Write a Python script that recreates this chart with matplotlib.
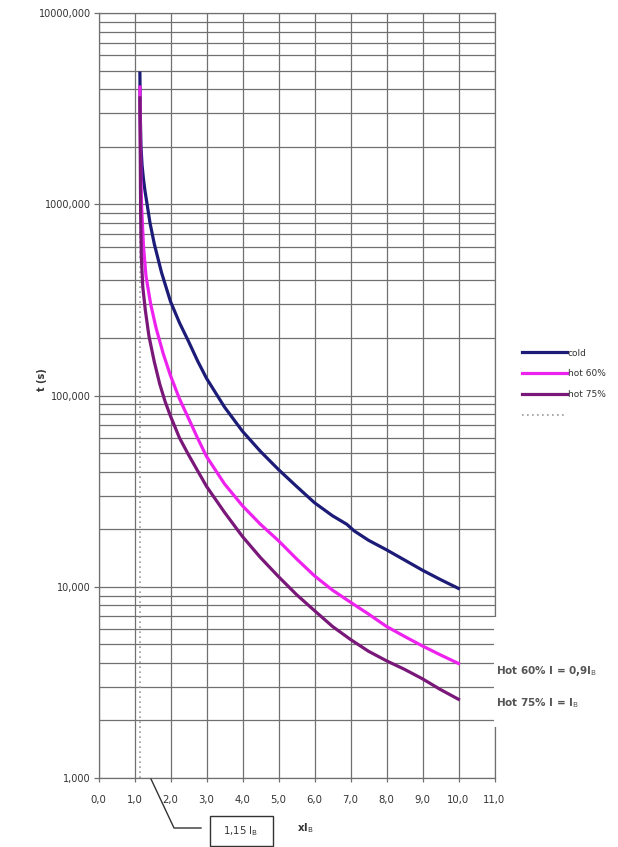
import matplotlib
matplotlib.use("Agg")
import matplotlib.pyplot as plt
from matplotlib.lines import Line2D
from matplotlib.patches import Rectangle

# ---- data ----
cold_x = [1.15, 1.16, 1.18, 1.21, 1.25, 1.29, 1.35, 1.43, 1.55, 1.75, 2.0, 2.25, 2.5, 2.75, 3.0, 3.5,
          4.0, 4.5, 5.0, 5.5, 6.0, 6.5, 6.9, 7.1, 7.5, 8.0, 8.5, 9.0, 9.5, 10.0]
cold_t = [4850, 3000, 2000, 1600, 1350, 1180, 1000, 800, 620, 440, 310, 240, 192, 152, 123, 87,
          65, 51, 41, 33.5, 27.5, 23.5, 21.2, 19.6, 17.5, 15.6, 13.8, 12.2, 10.9, 9.8]

hot60_x = [1.15, 1.16, 1.18, 1.2, 1.25, 1.32, 1.45, 1.6, 1.8, 2.0, 2.25, 2.5, 2.75, 3.0, 3.5, 4.0,
           4.5, 5.0, 5.5, 6.0, 6.5, 7.0, 7.5, 8.0, 8.5, 9.0, 9.5, 10.0]
hot60_t = [4100, 2500, 1300, 950, 600, 420, 300, 225, 165, 127, 96, 76, 60, 48, 34.5, 26.5,
           21.2, 17.4, 14.0, 11.4, 9.6, 8.3, 7.2, 6.2, 5.5, 4.9, 4.4, 3.97]

hot75_x = [1.15, 1.16, 1.17, 1.19, 1.23, 1.3, 1.4, 1.55, 1.7, 1.85, 2.0, 2.25, 2.5, 2.75, 3.0, 3.5,
           4.0, 4.5, 5.0, 5.5, 6.0, 6.5, 7.0, 7.5, 8.0, 8.5, 9.0, 9.5, 10.0]
hot75_t = [3600, 1800, 900, 530, 370, 280, 205, 150, 115, 93, 78, 60, 49, 40.5, 33.5, 24.5,
           18.3, 14.2, 11.3, 9.1, 7.5, 6.2, 5.3, 4.6, 4.1, 3.7, 3.3, 2.9, 2.58]

marker_x = [1.15, 1.15]
marker_t = [1, 3000]

x_ticks = list(range(0, 12))
x_ticklabels = ["0,0", "1,0", "2,0", "3,0", "4,0", "5,0", "6,0", "7,0", "8,0", "9,0", "10,0", "11,0"]
y_ticks = [1, 10, 100, 1000, 10000]
y_ticklabels = ["1,000", "10,000", "100,000", "1000,000", "10000,000"]

series_labels = ["cold", "hot 60%", "hot 75%", ""]
colors = ["#1c1c78", "#ee22ee", "#7a187a", "#9a9a9a"]

W, H = 618, 847
fig = plt.figure(figsize=(W / 100, H / 100), dpi=100)
ax = fig.add_axes([98.5 / W, 1 - 778 / H, (494.5 - 98.5) / W, (778 - 13) / H])

ax.set_yscale("log")
ax.set_xlim(0, 11)
ax.set_ylim(1, 10000)

grid_c = "#707070"
ax.set_xticks(x_ticks)
ax.set_xticklabels(x_ticklabels, fontsize=7.3, color="#333333")
ax.set_yticks(y_ticks)
ax.set_yticklabels(y_ticklabels, fontsize=7.0, color="#333333")
ax.tick_params(axis="x", which="major", length=3, pad=9, color=grid_c, width=0.9)
ax.tick_params(axis="y", which="major", length=3.5, pad=2, color=grid_c, width=0.9)
ax.tick_params(axis="y", which="minor", length=0)
ax.grid(True, which="major", axis="both", color=grid_c, lw=0.9)
ax.grid(True, which="minor", axis="y", color=grid_c, lw=0.9)
ax.set_axisbelow(True)
for s in ax.spines.values():
    s.set_color(grid_c)
    s.set_linewidth(0.9)

l4, = ax.plot(marker_x, marker_t, color=colors[3], lw=1.2, ls=(0, (1, 2)), zorder=2)
l1, = ax.plot(cold_x, cold_t, color=colors[0], lw=2.3, zorder=3, solid_joinstyle="round")
l2, = ax.plot(hot60_x, hot60_t, color=colors[1], lw=2.3, zorder=3, solid_joinstyle="round")
l3, = ax.plot(hot75_x, hot75_t, color=colors[2], lw=2.3, zorder=3, solid_joinstyle="round")

leg = fig.legend([l1, l2, l3, l4], series_labels, loc="upper left",
                 bbox_to_anchor=(518 / W, 1 - 345 / H), frameon=False,
                 fontsize=6.5, handlelength=5.0, handletextpad=0.1,
                 labelspacing=1.3, borderaxespad=0)
for t in leg.get_texts():
    t.set_color("#333333")

ax.set_ylabel("t (s)", fontsize=7, fontweight="bold", color="#333333")
ax.yaxis.set_label_coords((47 - 98.5) / (494.5 - 98.5), (778 - 380) / (778 - 13))

# white cover on right side where annotations sit
fig.patches.append(Rectangle((493.5 / W, 1 - 727 / H), 120 / W, 110 / H,
                             transform=fig.transFigure, facecolor="white",
                             edgecolor="none", zorder=5))
fig.text(496 / W, 1 - 671 / H, r"Hot 60% I = 0,9I$_{\mathrm{B}}$", fontsize=7.5,
         fontweight="bold", color="#555555", va="center", ha="left", zorder=6)
fig.text(496 / W, 1 - 703 / H, r"Hot 75% I = I$_{\mathrm{B}}$", fontsize=7.5,
         fontweight="bold", color="#555555", va="center", ha="left", zorder=6)

# bottom annotation for 1,15 I_B
fig.add_artist(Line2D([151 / W, 174 / W, 201 / W],
                      [1 - 779 / H, 1 - 828 / H, 1 - 828 / H],
                      transform=fig.transFigure, color="#333333", lw=1.0))
fig.add_artist(Rectangle((209.5 / W, 1 - 846 / H), 63 / W, 30 / H,
                         transform=fig.transFigure, facecolor="white",
                         edgecolor="#333333", lw=1.0))
fig.text(241 / W, 1 - 831 / H, r"1,15 I$_{\mathrm{B}}$", fontsize=7.3,
         color="#333333", ha="center", va="center")
fig.text(305 / W, 1 - 828 / H, r"xI$_{\mathrm{B}}$", fontsize=7.3,
         fontweight="bold", color="#333333", ha="center", va="center")

fig.savefig("out.png", dpi=100, facecolor="white")
